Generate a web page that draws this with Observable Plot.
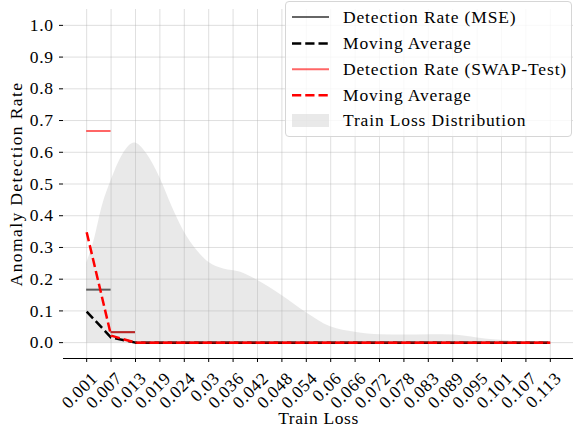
<!DOCTYPE html>
<html><head><meta charset="utf-8">
<script src="https://cdn.jsdelivr.net/npm/d3@7"></script>
<script src="https://cdn.jsdelivr.net/npm/@observablehq/plot@0.6"></script>
<style>
body{margin:0;background:#fff;}
#wrap{position:relative;width:573px;height:429px;font-family:"Liberation Serif",serif;}
#wrap svg text{font-family:"Liberation Serif",serif;}
#legend{position:absolute;left:285px;top:1px;width:287px;height:136px;border:1px solid #d6d6d6;border-radius:4px;background:rgba(255,255,255,0.8);box-sizing:border-box;}
#legend svg{position:absolute;left:-1px;top:-1px;}
#legend text{letter-spacing:0.85px;}
.lbl text{letter-spacing:0.6px;}
.ylbl text{letter-spacing:1.4px;}
</style></head><body><div id="wrap"></div>
<script>
// ---- data ----
const tickLabels = ["0.001","0.007","0.013","0.019","0.024","0.03","0.036","0.042","0.048","0.054","0.06","0.066","0.072","0.078","0.083","0.089","0.095","0.101","0.107","0.113"];
// detection rate per bin (bin i spans tick i .. tick i+1)
const mseRate  = [0.167, 0.033, 0, 0, 0, 0, 0, 0, 0, 0, 0, 0, 0, 0, 0, 0, 0, 0, 0];
const swapRate = [0.667, 0.033, 0, 0, 0, 0, 0, 0, 0, 0, 0, 0, 0, 0, 0, 0, 0, 0, 0];
// moving averages at each tick
const mseMA  = [0.098, 0.016, 0, 0, 0, 0, 0, 0, 0, 0, 0, 0, 0, 0, 0, 0, 0, 0, 0, 0];
const swapMA = [0.348, 0.022, 0, 0, 0, 0, 0, 0, 0, 0, 0, 0, 0, 0, 0, 0, 0, 0, 0, 0];
// train loss distribution (position in tick units, scaled height)
const densityPos = [0, 0.3, 0.64, 1, 1.46, 1.97, 2.46, 3, 3.51, 3.97, 4.53, 5, 5.61, 6.31, 6.92, 8.01, 8.97, 9.99, 11.0, 12.04, 12.98, 14.09, 15.03, 16.01, 16.83, 17.77, 19];
const densityVal = [0.25, 0.32, 0.43, 0.51, 0.59, 0.629, 0.595, 0.52, 0.427, 0.353, 0.29, 0.253, 0.232, 0.222, 0.20, 0.148, 0.096, 0.05, 0.033, 0.025, 0.024, 0.025, 0.024, 0.015, 0.008, 0.003, 0];
const yTicks = [0, 0.1, 0.2, 0.3, 0.4, 0.5, 0.6, 0.7, 0.8, 0.9, 1.0];
const legendLabels = ["Detection Rate (MSE)", "Moving Average", "Detection Rate (SWAP-Test)", "Moving Average", "Train Loss Distribution"];

const idx = tickLabels.map((_, i) => i);
const density = densityPos.map((p, i) => ({p, v: densityVal[i]}));
const bins = r => r.map((v, i) => ({i, v}));
const pts = r => r.map((v, i) => ({i, v}));
const FONT = 17.5;
const FF = '"Liberation Serif", serif';

const chart = Plot.plot({
  width: 573, height: 429,
  marginLeft: 63, marginRight: 0, marginTop: 9, marginBottom: 71,
  style: {fontFamily: FF, fontSize: FONT + "px", color: "black", background: "white", overflow: "visible"},
  x: {domain: [-0.95, 19.95]},
  y: {domain: [-0.05, 1.05]},
  marks: [
    Plot.areaY(density, {x: "p", y: "v", fill: "#d3d3d3", fillOpacity: 0.5, curve: "monotone-x"}),
    Plot.gridX({ticks: idx, stroke: "#b0b0b0", strokeOpacity: 0.4, strokeWidth: 1}),
    Plot.gridY({ticks: yTicks, stroke: "#b0b0b0", strokeOpacity: 0.4, strokeWidth: 1}),
    Plot.axisY({ticks: yTicks, tickSize: 4, tickPadding: 6, tickFormat: d3.format(".1f"), label: null, fontSize: FONT, className: "lbl"}),
    Plot.axisX({ticks: idx, tickSize: 4, tickFormat: () => "", label: null}),
    Plot.ruleY([-0.05], {stroke: "black", strokeWidth: 1}),
    Plot.text(idx, {x: d => d, frameAnchor: "bottom", text: i => tickLabels[i], rotate: -45, textAnchor: "end", lineAnchor: "bottom", dx: 12, dy: 21, fontSize: FONT, fontFamily: FF, className: "lbl"}),
    Plot.text(["Train Loss"], {frameAnchor: "bottom", text: d => d, textAnchor: "middle", lineAnchor: "bottom", dy: 65, fontSize: FONT, fontFamily: FF, className: "lbl"}),
    Plot.text(["Anomaly Detection Rate"], {frameAnchor: "left", text: d => d, textAnchor: "middle", lineAnchor: "middle", rotate: -90, dx: -47, fontSize: FONT, fontFamily: FF, className: "ylbl"}),
    Plot.ruleY(bins(mseRate), {y: "v", x1: "i", x2: d => d.i + 1, stroke: "black", strokeOpacity: 0.6, strokeWidth: 2}),
    Plot.line(pts(mseMA), {x: "i", y: "v", stroke: "black", strokeWidth: 2.5, strokeDasharray: "9.25,4", strokeLinecap: "butt"}),
    Plot.ruleY(bins(swapRate), {y: "v", x1: "i", x2: d => d.i + 1, stroke: "red", strokeOpacity: 0.6, strokeWidth: 2}),
    Plot.line(pts(swapMA), {x: "i", y: "v", stroke: "red", strokeWidth: 2.5, strokeDasharray: "9.25,4", strokeLinecap: "butt"})
  ]
});
const wrap = document.getElementById("wrap");
wrap.appendChild(chart);

// legend overlay
const leg = document.createElement("div");
leg.id = "legend";
const ns = "http://www.w3.org/2000/svg";
const svg = document.createElementNS(ns, "svg");
svg.setAttribute("width", 288); svg.setAttribute("height", 137);
const rows = [16, 42.5, 68.3, 94.3, 119.5];
const handles = [
  {type: "line", stroke: "black", op: 0.6, w: 2, dash: null},
  {type: "line", stroke: "black", op: 1, w: 2.5, dash: "9.25,4"},
  {type: "line", stroke: "red", op: 0.6, w: 2, dash: null},
  {type: "line", stroke: "red", op: 1, w: 2.5, dash: "9.25,4"},
  {type: "patch"}
];
const ox = 285, oy = 0;
legendLabels.forEach((lab, k) => {
  const cy = rows[k] - oy;
  const h = handles[k];
  if (h.type === "line") {
    const l = document.createElementNS(ns, "line");
    l.setAttribute("x1", 292 - ox); l.setAttribute("x2", 329 - ox);
    l.setAttribute("y1", cy); l.setAttribute("y2", cy);
    l.setAttribute("stroke", h.stroke); l.setAttribute("stroke-opacity", h.op);
    l.setAttribute("stroke-width", h.w);
    if (h.dash) l.setAttribute("stroke-dasharray", h.dash);
    svg.appendChild(l);
  } else {
    const r = document.createElementNS(ns, "rect");
    r.setAttribute("x", 292 - ox); r.setAttribute("y", cy - 6.5);
    r.setAttribute("width", 37); r.setAttribute("height", 13);
    r.setAttribute("fill", "#d3d3d3"); r.setAttribute("fill-opacity", 0.5);
    svg.appendChild(r);
  }
  const t = document.createElementNS(ns, "text");
  t.setAttribute("x", 343 - ox); t.setAttribute("y", cy + 5.8);
  t.setAttribute("font-family", FF);
  t.setAttribute("font-size", FONT);
  t.setAttribute("fill", "black");
  t.textContent = lab;
  svg.appendChild(t);
});
leg.appendChild(svg);
wrap.appendChild(leg);
</script>
</body></html>
